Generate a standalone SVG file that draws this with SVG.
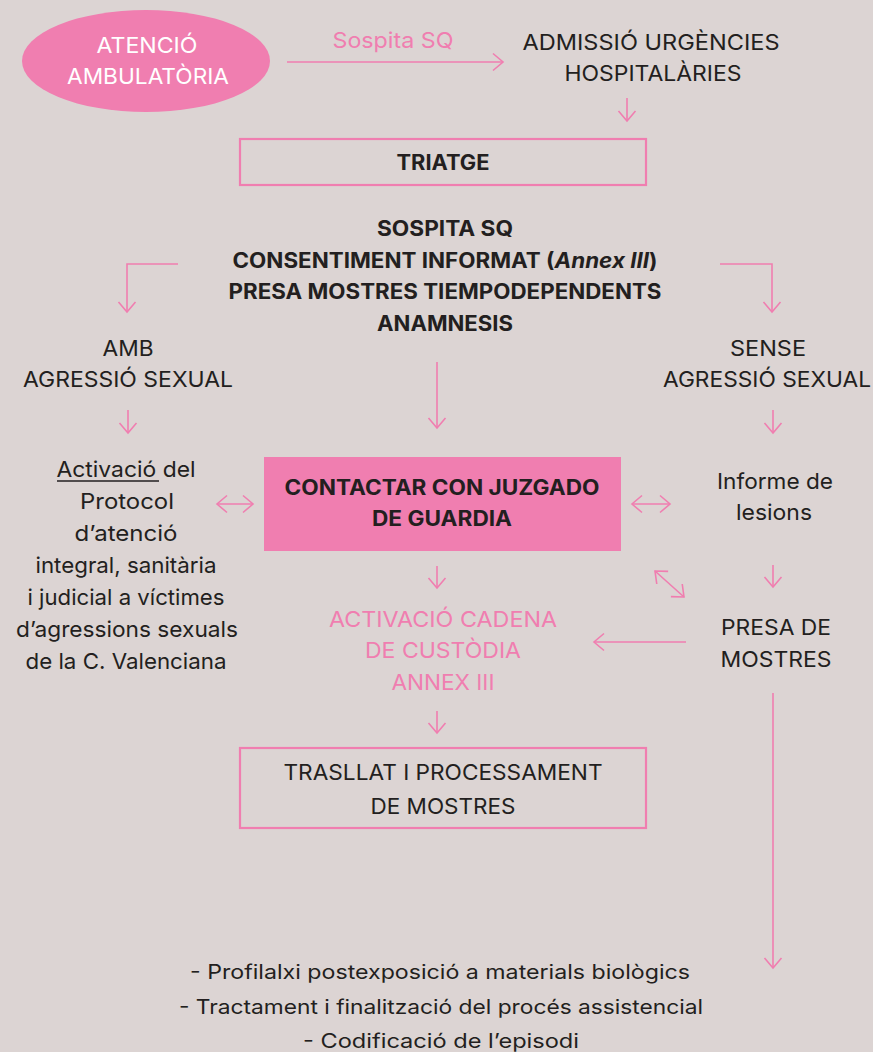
<svg xmlns="http://www.w3.org/2000/svg" width="873" height="1052" viewBox="0 0 873 1052">
<style>
text{font-family:"Inter","Liberation Sans",sans-serif;font-size:22px;fill:#231f20;text-anchor:middle}
.b{font-weight:700;font-size:21px}
.f{font-size:20px}
.w{fill:#ffffff}
.p{fill:#f07eb0}
.c{fill:none;stroke:#f07eb0;stroke-width:1.6}
</style>
<defs>
<marker id="ah" viewBox="-12 -12 24 24" refX="0" refY="0" markerWidth="24" markerHeight="24" markerUnits="userSpaceOnUse" orient="auto-start-reverse">
<path d="M-10,-8.5 L0,0 L-10,8.5" fill="none" stroke="#f07eb0" stroke-width="1.6"/>
</marker>
</defs>
<rect width="873" height="1052" fill="#dcd4d3"/>

<g id="connectors" class="c">
<line x1="287" y1="62" x2="503" y2="62" marker-end="url(#ah)"/>
<line x1="627" y1="98" x2="627" y2="121" marker-end="url(#ah)"/>
<polyline points="178,264 127,264 127,312" marker-end="url(#ah)"/>
<polyline points="720,264 772,264 772,312" marker-end="url(#ah)"/>
<line x1="437" y1="362" x2="437" y2="428" marker-end="url(#ah)"/>
<line x1="128" y1="410" x2="128" y2="433" marker-end="url(#ah)"/>
<line x1="773" y1="410" x2="773" y2="433" marker-end="url(#ah)"/>
<line x1="217" y1="504" x2="253" y2="504" marker-start="url(#ah)" marker-end="url(#ah)"/>
<line x1="632" y1="504" x2="670" y2="504" marker-start="url(#ah)" marker-end="url(#ah)"/>
<line x1="437" y1="566" x2="437" y2="588" marker-end="url(#ah)"/>
<line x1="773" y1="565" x2="773" y2="587" marker-end="url(#ah)"/>
<line x1="655" y1="571" x2="684" y2="597" marker-start="url(#ah)" marker-end="url(#ah)"/>
<line x1="686" y1="642" x2="594" y2="642" marker-end="url(#ah)"/>
<line x1="773" y1="693" x2="773" y2="968" marker-end="url(#ah)"/>
<line x1="437" y1="711" x2="437" y2="733" marker-end="url(#ah)"/>
</g>

<g id="atencio">
<ellipse cx="146" cy="61" rx="124" ry="51" fill="#f07eb0"/>
<text class="w" x="147" y="53" textLength="101" lengthAdjust="spacingAndGlyphs">ATENCIÓ</text>
<text class="w" x="148" y="84" textLength="162" lengthAdjust="spacingAndGlyphs">AMBULATÒRIA</text>
</g>

<g id="sospita-label">
<text class="p" x="393" y="48" textLength="121" lengthAdjust="spacingAndGlyphs">Sospita SQ</text>
</g>

<g id="admissio">
<text x="651" y="50" textLength="257" lengthAdjust="spacingAndGlyphs">ADMISSIÓ URGÈNCIES</text>
<text x="653" y="81" textLength="177" lengthAdjust="spacingAndGlyphs">HOSPITALÀRIES</text>
</g>

<g id="triatge">
<rect x="240" y="139" width="406" height="46" fill="none" stroke="#f07eb0" stroke-width="2.2"/>
<text class="b" x="443" y="170" textLength="93" lengthAdjust="spacingAndGlyphs">TRIATGE</text>
</g>

<g id="sospita">
<text class="b" x="445" y="236" textLength="136" lengthAdjust="spacingAndGlyphs">SOSPITA SQ</text>
<text class="b" x="445" y="268" textLength="425" lengthAdjust="spacingAndGlyphs">CONSENTIMENT INFORMAT (<tspan font-style="italic">Annex III</tspan>)</text>
<text class="b" x="445" y="299" textLength="433" lengthAdjust="spacingAndGlyphs">PRESA MOSTRES TIEMPODEPENDENTS</text>
<text class="b" x="445" y="331" textLength="136" lengthAdjust="spacingAndGlyphs">ANAMNESIS</text>
</g>

<g id="amb">
<text x="128" y="356" textLength="51" lengthAdjust="spacingAndGlyphs">AMB</text>
<text x="128" y="387" textLength="210" lengthAdjust="spacingAndGlyphs">AGRESSIÓ SEXUAL</text>
</g>

<g id="sense">
<text x="768" y="356" textLength="76" lengthAdjust="spacingAndGlyphs">SENSE</text>
<text x="767" y="387" textLength="208" lengthAdjust="spacingAndGlyphs">AGRESSIÓ SEXUAL</text>
</g>

<g id="protocol">
<text x="126" y="477" textLength="139" lengthAdjust="spacingAndGlyphs">Activació del</text>
<line x1="57" y1="481" x2="159" y2="481" stroke="#231f20" stroke-width="1.3"/>
<text x="127" y="509" textLength="94" lengthAdjust="spacingAndGlyphs">Protocol</text>
<text x="126" y="541" textLength="103" lengthAdjust="spacingAndGlyphs">d’atenció</text>
<text x="126" y="573" textLength="181" lengthAdjust="spacingAndGlyphs">integral, sanitària</text>
<text x="126" y="605" textLength="197" lengthAdjust="spacingAndGlyphs">i judicial a víctimes</text>
<text x="127" y="637" textLength="222" lengthAdjust="spacingAndGlyphs">d’agressions sexuals</text>
<text x="126" y="669" textLength="201" lengthAdjust="spacingAndGlyphs">de la C. Valenciana</text>
</g>

<g id="contactar">
<rect x="264" y="457" width="357" height="94" fill="#f07eb0"/>
<text class="b" x="442" y="495" textLength="315" lengthAdjust="spacingAndGlyphs">CONTACTAR CON JUZGADO</text>
<text class="b" x="442" y="526" textLength="140" lengthAdjust="spacingAndGlyphs">DE GUARDIA</text>
</g>

<g id="informe">
<text x="775" y="489" textLength="116" lengthAdjust="spacingAndGlyphs">Informe de</text>
<text x="774" y="520" textLength="76" lengthAdjust="spacingAndGlyphs">lesions</text>
</g>

<g id="cadena">
<text class="p" x="443" y="627" textLength="228" lengthAdjust="spacingAndGlyphs">ACTIVACIÓ CADENA</text>
<text class="p" x="443" y="658" textLength="156" lengthAdjust="spacingAndGlyphs">DE CUSTÒDIA</text>
<text class="p" x="443" y="690" textLength="103" lengthAdjust="spacingAndGlyphs">ANNEX III</text>
</g>

<g id="presa">
<text x="776" y="635" textLength="110" lengthAdjust="spacingAndGlyphs">PRESA DE</text>
<text x="776" y="667" textLength="111" lengthAdjust="spacingAndGlyphs">MOSTRES</text>
</g>

<g id="trasllat">
<rect x="240" y="748" width="406" height="80" fill="none" stroke="#f07eb0" stroke-width="2.2"/>
<text x="443" y="780" textLength="319" lengthAdjust="spacingAndGlyphs">TRASLLAT I PROCESSAMENT</text>
<text x="443" y="814" textLength="145" lengthAdjust="spacingAndGlyphs">DE MOSTRES</text>
</g>

<g id="final">
<text class="f" x="440" y="979" textLength="500" lengthAdjust="spacingAndGlyphs">- Profilalxi postexposició a materials biològics</text>
<text class="f" x="441" y="1014" textLength="524" lengthAdjust="spacingAndGlyphs">- Tractament i finalització del procés assistencial</text>
<text class="f" x="441" y="1048" textLength="276" lengthAdjust="spacingAndGlyphs">- Codificació de l’episodi</text>
</g>
</svg>
